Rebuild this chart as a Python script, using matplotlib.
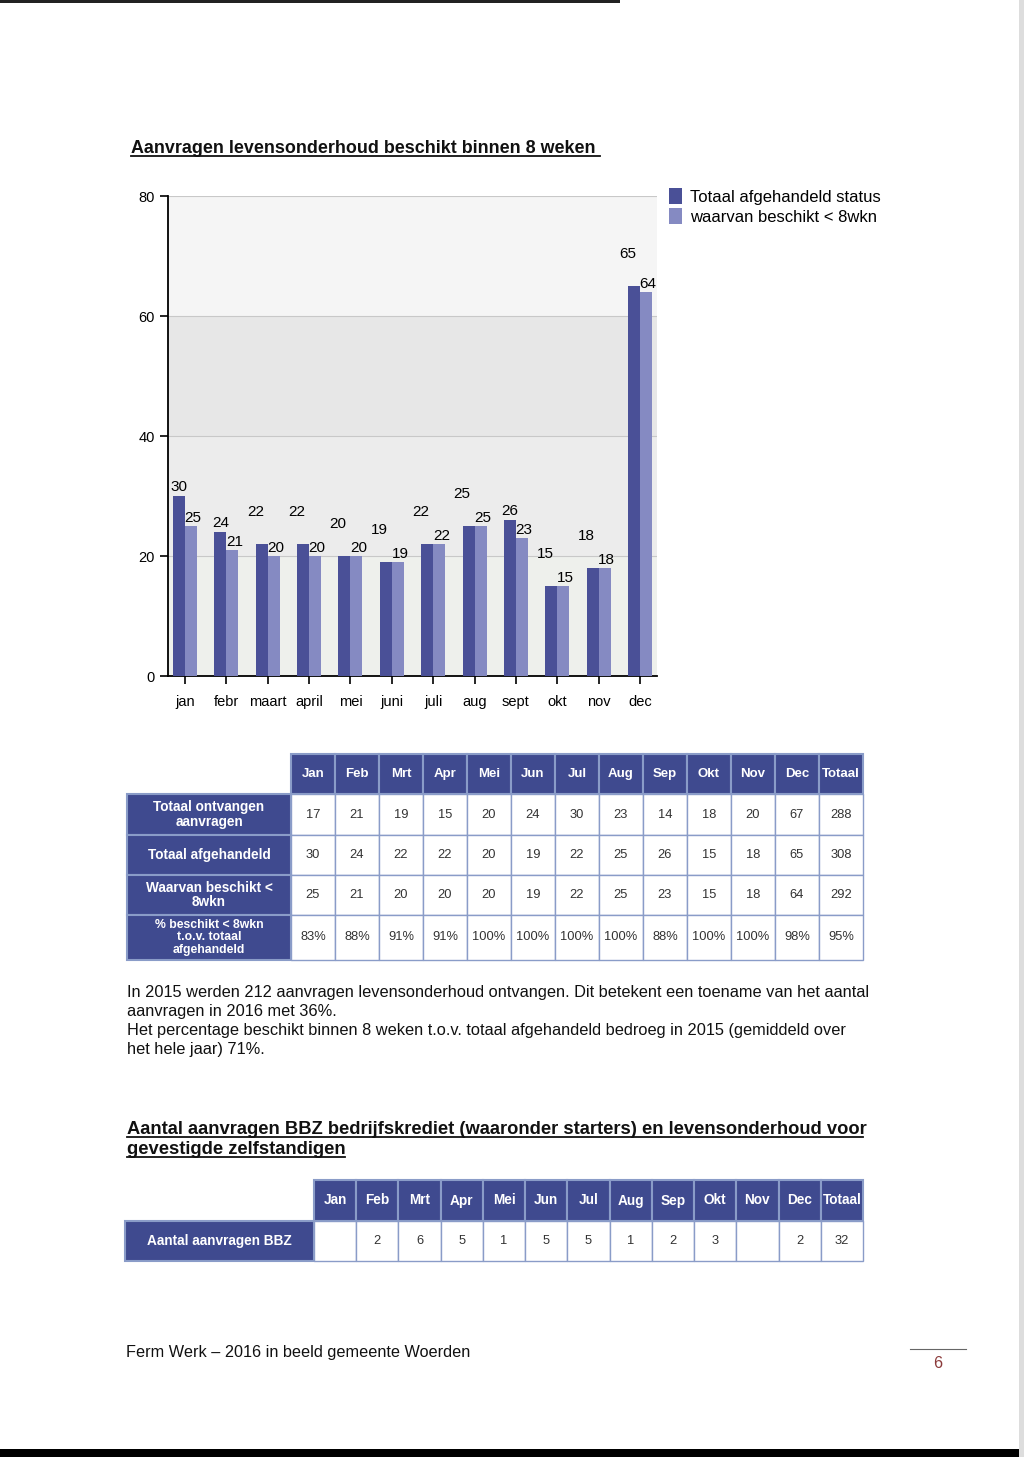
import matplotlib
matplotlib.use("Agg")
import matplotlib.pyplot as plt
from matplotlib.patches import Rectangle
from matplotlib.lines import Line2D

plt.rcParams['font.family'] = ['Liberation Sans', 'DejaVu Sans']

# data
maanden = ['jan', 'febr', 'maart', 'april', 'mei', 'juni', 'juli', 'aug', 'sept', 'okt', 'nov', 'dec']
afgehandeld = [30, 24, 22, 22, 20, 19, 22, 25, 26, 15, 18, 65]
beschikt = [25, 21, 20, 20, 20, 19, 22, 25, 23, 15, 18, 64]

kolommen = ['Jan', 'Feb', 'Mrt', 'Apr', 'Mei', 'Jun', 'Jul', 'Aug', 'Sep', 'Okt', 'Nov', 'Dec', 'Totaal']
rij_labels = ['Totaal ontvangen\naanvragen', 'Totaal afgehandeld', 'Waarvan beschikt <\n8wkn',
              '% beschikt < 8wkn\nt.o.v. totaal\nafgehandeld']
ontvangen_rij = ['17', '21', '19', '15', '20', '24', '30', '23', '14', '18', '20', '67', '288']
afgehandeld_rij = ['30', '24', '22', '22', '20', '19', '22', '25', '26', '15', '18', '65', '308']
beschikt_rij = ['25', '21', '20', '20', '20', '19', '22', '25', '23', '15', '18', '64', '292']
procent_rij = ['83%', '88%', '91%', '91%', '100%', '100%', '100%', '100%', '88%', '100%', '100%', '98%', '95%']

bbz_label = 'Aantal aanvragen BBZ'
bbz_rij = ['', '2', '6', '5', '1', '5', '5', '1', '2', '3', '', '2', '32']

DARK = '#4a5097'
LIGHT = '#858ac2'
HEAD = '#3f4a8f'
EDGE = '#8a9cc8'

W, H = 1024, 1457
fig = plt.figure(figsize=(W / 100, H / 100), dpi=100)
fig.patch.set_facecolor('white')

# page overlay in pixel coordinates
pg = fig.add_axes([0, 0, 1, 1])
pg.set_xlim(0, W)
pg.set_ylim(H, 0)
pg.axis('off')

# scan edges
pg.add_patch(Rectangle((0, 0), 620, 3, color='#222222', lw=0))
pg.add_patch(Rectangle((0, 1449), W, 8, color='black', lw=0))
pg.add_patch(Rectangle((1019, 0), 5, 1457, color='#dddddd', lw=0))


def titel(x, y, s, size, x2):
    pg.text(x, y, s, fontsize=size, fontweight='bold', ha='left', va='baseline', color='#111111')
    pg.add_line(Line2D([x, x2], [y + 3, y + 3], color='#111111', lw=1.3))


titel(131, 153, 'Aanvragen levensonderhoud beschikt binnen 8 weken', 12.9, 600)

# chart
ax = fig.add_axes([168 / W, 1 - 676 / H, (657 - 168) / W, (676 - 196) / H])
x = list(range(len(maanden)))
bw = 0.29
ax.axhspan(0, 20, color='#eef0ec', lw=0, zorder=0)
ax.axhspan(20, 40, color='#ececec', lw=0, zorder=0)
ax.axhspan(40, 60, color='#e7e7e7', lw=0, zorder=0)
ax.axhspan(60, 80, color='#f5f5f5', lw=0, zorder=0)
ax.bar([i - bw / 2 for i in x], afgehandeld, width=bw, color=DARK, zorder=3,
       label='Totaal afgehandeld status')
ax.bar([i + bw / 2 for i in x], beschikt, width=bw, color=LIGHT, zorder=3,
       label='waarvan beschikt < 8wkn')
for i in x:
    a, b = afgehandeld[i], beschikt[i]
    if a - b >= 3:
        ax.text(i - bw / 2, a + 0.4, str(a), ha='center', va='bottom', fontsize=11, zorder=4)
    else:
        ax.text(i - 0.3, a + 4.2, str(a), ha='center', va='bottom', fontsize=11, zorder=4)
    ax.text(i + bw / 2 + 0.05, b + 0.2, str(b), ha='center', va='bottom', fontsize=11, zorder=4)

ax.set_xlim(-0.41, 11.41)
ax.set_ylim(0, 80)
ax.set_yticks([0, 20, 40, 60, 80])
ax.set_xticks(x)
ax.set_xticklabels(maanden, fontsize=10.5)
ax.tick_params(axis='y', labelsize=10.5, length=6, width=1.2, direction='out')
ax.tick_params(axis='x', length=6, width=1.2, direction='out', pad=8)
for y in [20, 40, 60, 80]:
    ax.axhline(y, color='#c8c8c8', lw=0.8, zorder=1)
ax.spines['top'].set_visible(False)
ax.spines['right'].set_visible(False)
ax.spines['left'].set_linewidth(1.3)
ax.spines['bottom'].set_linewidth(1.3)
ax.legend(loc='upper left', bbox_to_anchor=(1.01, 1.03), frameon=False, fontsize=12,
          handlelength=0.8, handleheight=1.1, handletextpad=0.5, labelspacing=0.2,
          borderaxespad=0)


# tables
def cel(x0, y0, w, h, s, kop=False, size=9):
    if kop:
        pg.add_patch(Rectangle((x0, y0), w, h, facecolor=HEAD, edgecolor=EDGE, lw=1.5))
        pg.text(x0 + w / 2, y0 + h / 2, s, ha='center', va='center', color='white',
                fontsize=size, fontweight='bold', linespacing=1.05)
    else:
        pg.add_patch(Rectangle((x0, y0), w, h, facecolor='white', edgecolor=EDGE, lw=1.0))
        pg.text(x0 + w / 2, y0 + h / 2, s, ha='center', va='center', color='#333333',
                fontsize=size)


kx0, kw = 291, 44
rij_y = [754, 794, 835, 875, 915, 960]
for j, k in enumerate(kolommen):
    cel(kx0 + j * kw, rij_y[0], kw, rij_y[1] - rij_y[0], k, kop=True, size=9.5)
rijen = [ontvangen_rij, afgehandeld_rij, beschikt_rij, procent_rij]
for r, (lab, vals) in enumerate(zip(rij_labels, rijen)):
    y0, y1 = rij_y[r + 1], rij_y[r + 2]
    cel(127, y0, kx0 - 127, y1 - y0, lab, kop=True, size=9.8 if r < 3 else 8.8)
    for j, v in enumerate(vals):
        cel(kx0 + j * kw, y0, kw, y1 - y0, v, size=9.3)

# paragraph
alinea = ['In 2015 werden 212 aanvragen levensonderhoud ontvangen. Dit betekent een toename van het aantal',
          'aanvragen in 2016 met 36%.',
          'Het percentage beschikt binnen 8 weken t.o.v. totaal afgehandeld bedroeg in 2015 (gemiddeld over',
          'het hele jaar) 71%.']
for n, regel in enumerate(alinea):
    pg.text(127, 997 + n * 19, regel, fontsize=11.8, ha='left', va='baseline', color='#111111')

titel(127, 1134, 'Aantal aanvragen BBZ bedrijfskrediet (waaronder starters) en levensonderhoud voor', 13.2, 863)
titel(127, 1154, 'gevestigde zelfstandigen', 13.2, 345)

bx0 = 314
bw2 = (863 - bx0) / 13
for j, k in enumerate(kolommen):
    cel(bx0 + j * bw2, 1180, bw2, 41, k, kop=True, size=9.8)
cel(125, 1221, bx0 - 125, 40, bbz_label, kop=True, size=9.8)
for j, v in enumerate(bbz_rij):
    cel(bx0 + j * bw2, 1221, bw2, 40, v, size=9.3)

# footer
pg.text(126, 1357, 'Ferm Werk \u2013 2016 in beeld gemeente Woerden', fontsize=11.7, ha='left',
        va='baseline', color='#111111')
pg.add_line(Line2D([910, 966], [1349, 1349], color='#666666', lw=0.8))
pg.text(938, 1368, '6', fontsize=11.7, ha='center', va='baseline', color='#8b3a3a')

fig.savefig('out.png', dpi=100)
